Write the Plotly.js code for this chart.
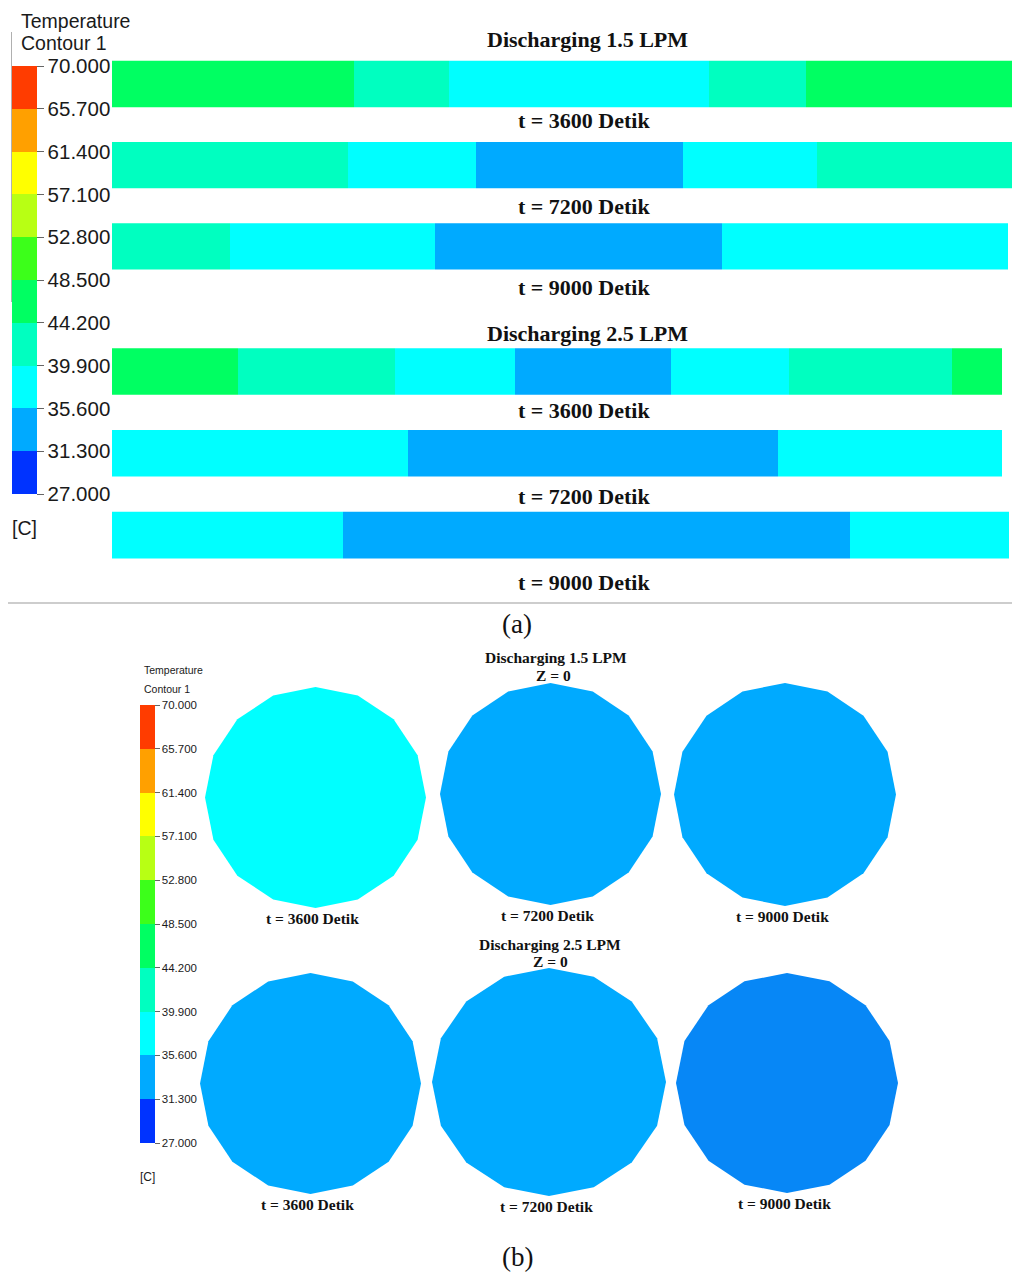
<!DOCTYPE html>
<html>
<head>
<meta charset="utf-8">
<script src="https://cdn.plot.ly/plotly-3.0.1.min.js"></script>
<style>html,body{margin:0;padding:0;background:#fff;}#chart{width:1012px;height:1273px;}</style>
</head>
<body>
<div id="chart"></div>
<script>
// ---------------- DATA ----------------
const BAND_EDGES = [27.0, 31.3, 35.6, 39.9, 44.2, 48.5, 52.8, 57.1, 61.4, 65.7, 70.0];
const TICK_LABELS = ['27.000','31.300','35.600','39.900','44.200','48.500','52.800','57.100','61.400','65.700','70.000'];
const GROUP_TITLES = ['Discharging 1.5 LPM', 'Discharging 2.5 LPM'];
const TIME_LABELS = ['t = 3600 Detik', 't = 7200 Detik', 't = 9000 Detik'];
const SECTION_LABEL = 'Z = 0';

// (a) axial contour bands: positions along the tank (0..900 units) where the temperature band changes
const EDGES_15 = [
  [0, 242, 337, 597, 694, 900],
  [0, 236, 364, 571, 705, 900],
  [0, 118, 323, 610, 896]
];
const TEMPS_15 = [
  [46.35, 42.05, 37.75, 42.05, 46.35],
  [42.05, 37.75, 33.45, 37.75, 42.05],
  [42.05, 37.75, 33.45, 37.75]
];
const EDGES_25 = [
  [0, 126, 283, 403, 559, 677, 840, 890],
  [0, 296, 666, 890],
  [0, 231, 738, 897]
];
const TEMPS_25 = [
  [46.35, 42.05, 37.75, 33.45, 37.75, 42.05, 46.35],
  [37.75, 33.45, 37.75],
  [37.75, 33.45, 37.75]
];

// (b) cross-section (Z = 0) temperatures: row 1 = 1.5 LPM, row 2 = 2.5 LPM
const SECTION_TEMPS_15 = [37.75, 33.45, 33.45];
const SECTION_TEMPS_25 = [33.45, 33.45, 31.3];

// ---------------- STYLE ----------------
const BAND_COLORS = ['#0033ff','#00aaff','#00ffff','#00ffc0','#00ff62','#3cff1a','#b8ff14','#ffff00','#ffa000','#ff3c00'];
const SECTION_SHADE_OVERRIDE = [null, null, null, null, null, '#0787f6'];
const N_SIDES = 16;
const W = 1012, H = 1273;

function colorscale() {
  const cs = [];
  const n = BAND_COLORS.length;
  for (let i = 0; i < n; i++) {
    cs.push([i / n, BAND_COLORS[i]]);
    cs.push([(i + 1) / n, BAND_COLORS[i]]);
  }
  return cs;
}
const CS = colorscale();
function bandColor(t) {
  for (let i = 0; i < BAND_EDGES.length - 1; i++) {
    if (t >= BAND_EDGES[i] && t < BAND_EDGES[i + 1]) return BAND_COLORS[i];
  }
  return BAND_COLORS[BAND_COLORS.length - 1];
}
const px = v => v / W;
const py = v => 1 - v / H;

function barTrace(edges, temps, axisNum, showScale) {
  const y = [], base = [], x = [], c = [];
  edges.forEach((e, i) => {
    for (let j = 0; j < e.length - 1; j++) {
      y.push(i); base.push(e[j]); x.push(e[j + 1] - e[j]); c.push(temps[i][j]);
    }
  });
  const tr = {
    type: 'bar', orientation: 'h', y: y, x: x, base: base, width: 0.57,
    xaxis: 'x' + (axisNum === 1 ? '' : axisNum), yaxis: 'y' + (axisNum === 1 ? '' : axisNum),
    marker: { color: c, colorscale: CS, cmin: 27, cmax: 70, showscale: showScale, line: { width: 0 } },
    hoverinfo: 'skip'
  };
  if (showScale) {
    tr.marker.colorbar = {
      x: px(12), xanchor: 'left', y: py(66), yanchor: 'top',
      len: 428, lenmode: 'pixels', thickness: 25, thicknessmode: 'pixels',
      xpad: 0, ypad: 0, outlinewidth: 0,
      ticks: 'outside', ticklen: 7, tickwidth: 1, tickcolor: '#666',
      tickmode: 'array', tickvals: BAND_EDGES, ticktext: TICK_LABELS,
      tickfont: { family: 'Liberation Sans, Arial, sans-serif', size: 20.5, color: '#1a1a1a' },
      title: { text: '' }
    };
  }
  return tr;
}

const traces = [barTrace(EDGES_15, TEMPS_15, 1, true), barTrace(EDGES_25, TEMPS_25, 2, false)];

// (b) polygons
const POLY_BOXES = [
  [205, 426, 687, 908], [440, 661, 683, 905], [674, 896, 683, 906],
  [200, 421, 973, 1194], [432, 666, 968, 1196], [676, 898, 973, 1193]
];
const SECTION_TEMPS = SECTION_TEMPS_15.concat(SECTION_TEMPS_25);
const layout = {
  width: W, height: H, margin: { l: 0, r: 0, t: 0, b: 0 },
  paper_bgcolor: '#fff', plot_bgcolor: 'rgba(0,0,0,0)', showlegend: false,
  barmode: 'overlay',
  xaxis: { domain: [px(112), 1], range: [0, 900], visible: false, fixedrange: true, anchor: 'y' },
  yaxis: { domain: [py(287), py(43.4)], range: [2.5, -0.5], visible: false, fixedrange: true, anchor: 'x' },
  xaxis2: { domain: [px(112), 1], range: [0, 900], visible: false, fixedrange: true, anchor: 'y2' },
  yaxis2: { domain: [py(576), py(330.6)], range: [2.5, -0.5], visible: false, fixedrange: true, anchor: 'x2' },
  annotations: [], shapes: []
};

SECTION_TEMPS.forEach((t, k) => {
  const n = k + 3;
  const xs = [], ys = [];
  for (let i = 0; i <= N_SIDES; i++) {
    const a = 2 * Math.PI * i / N_SIDES;
    xs.push(Math.cos(a)); ys.push(Math.sin(a));
  }
  const fc = SECTION_SHADE_OVERRIDE[k] || bandColor(t);
  traces.push({
    type: 'scatter', mode: 'lines', x: xs, y: ys, fill: 'toself', fillcolor: fc,
    line: { width: 0, color: fc }, xaxis: 'x' + n, yaxis: 'y' + n, hoverinfo: 'skip'
  });
  const b = POLY_BOXES[k];
  layout['xaxis' + n] = { domain: [px(b[0]), px(b[1])], range: [-1, 1], visible: false, fixedrange: true, anchor: 'y' + n };
  layout['yaxis' + n] = { domain: [py(b[3]), py(b[2])], range: [-1, 1], visible: false, fixedrange: true, anchor: 'x' + n };
  layout.annotations.push({
    xref: 'x' + n, yref: 'y' + n, x: 0, y: -1, xshift: -3, yshift: -10, yanchor: 'middle', xanchor: 'center',
    text: '<b>' + TIME_LABELS[k % 3] + '</b>', showarrow: false,
    font: { family: 'Liberation Serif, Times New Roman, serif', size: 15.5, color: '#111' }
  });
});

// colorbar (b) attached to an invisible marker trace on the first section axes
traces.push({
  type: 'scatter', mode: 'markers', x: [0], y: [0], xaxis: 'x3', yaxis: 'y3', hoverinfo: 'skip',
  marker: {
    size: 1, opacity: 0, color: [SECTION_TEMPS[0]], colorscale: CS, cmin: 27, cmax: 70, showscale: true,
    colorbar: {
      x: px(140), xanchor: 'left', y: py(705), yanchor: 'top',
      len: 438, lenmode: 'pixels', thickness: 15, thicknessmode: 'pixels',
      xpad: 0, ypad: 0, outlinewidth: 0,
      ticks: 'outside', ticklen: 5, tickwidth: 1, tickcolor: '#666',
      tickmode: 'array', tickvals: BAND_EDGES, ticktext: TICK_LABELS,
      tickfont: { family: 'Liberation Sans Narrow, Arial Narrow, sans-serif', size: 11.5, color: '#1a1a1a' },
      title: { text: '' }
    }
  }
});

// (a) text
const serif = 'Liberation Serif, Times New Roman, serif';
GROUP_TITLES.forEach((g, gi) => {
  const yr = gi === 0 ? 'y' : 'y2';
  layout.annotations.push({
    xref: 'paper', yref: yr, x: px(587), y: -0.5, yshift: gi === 0 ? 4 : -3, xanchor: 'center', yanchor: 'middle',
    text: '<b>' + g + '</b>', showarrow: false, font: { family: serif, size: 22, color: '#111' }
  });
  const shifts = gi === 0 ? [4, -1, 0] : [2, -2, -6];
  TIME_LABELS.forEach((t, i) => {
    layout.annotations.push({
      xref: 'paper', yref: yr, x: px(584), y: i + 0.5, yshift: shifts[i], xanchor: 'center', yanchor: 'middle',
      text: '<b>' + t + '</b>', showarrow: false, font: { family: serif, size: 22, color: '#111' }
    });
  });
});

const sans = 'Liberation Sans, Arial, sans-serif';
const narrow = 'Liberation Sans Narrow, Arial Narrow, sans-serif';
function txt(x, y, text, font, anchor) {
  layout.annotations.push({
    xref: 'paper', yref: 'paper', x: px(x), y: py(y), xanchor: anchor || 'left', yanchor: 'middle',
    text: text, showarrow: false, font: font
  });
}
txt(19, 21, 'Temperature', { family: sans, size: 19.5, color: '#1a1a1a' });
txt(19, 43, 'Contour 1', { family: sans, size: 19.5, color: '#1a1a1a' });
txt(10, 528, '[C]', { family: sans, size: 19.5, color: '#1a1a1a' });
txt(517, 624, '(a)', { family: serif, size: 27, color: '#111' }, 'center');
txt(517, 1257, '(b)', { family: serif, size: 27, color: '#111' }, 'center');

// (b) text
txt(142, 670, 'Temperature', { family: narrow, size: 10.5, color: '#1a1a1a' });
txt(142, 689, 'Contour 1', { family: narrow, size: 10.5, color: '#1a1a1a' });
txt(138, 1177, '[C]', { family: narrow, size: 12, color: '#1a1a1a' });
txt(556, 657, '<b>' + GROUP_TITLES[0] + '</b>', { family: serif, size: 15.5, color: '#111' }, 'center');
txt(553, 675, '<b>' + SECTION_LABEL + '</b>', { family: serif, size: 15.5, color: '#111' }, 'center');
txt(550, 944, '<b>' + GROUP_TITLES[1] + '</b>', { family: serif, size: 15.5, color: '#111' }, 'center');
txt(550, 961, '<b>' + SECTION_LABEL + '</b>', { family: serif, size: 15.5, color: '#111' }, 'center');

// separators / frame lines
layout.shapes.push({ type: 'line', xref: 'paper', yref: 'paper', x0: px(8), x1: 1, y0: py(603), y1: py(603), line: { color: '#bdbdbd', width: 1.5 } });
layout.shapes.push({ type: 'line', xref: 'paper', yref: 'paper', x0: px(11.5), x1: px(11.5), y0: py(32), y1: py(302), line: { color: '#b0b0b0', width: 1 } });

Plotly.newPlot('chart', traces, layout, { staticPlot: true, displayModeBar: false });
</script>
</body>
</html>
